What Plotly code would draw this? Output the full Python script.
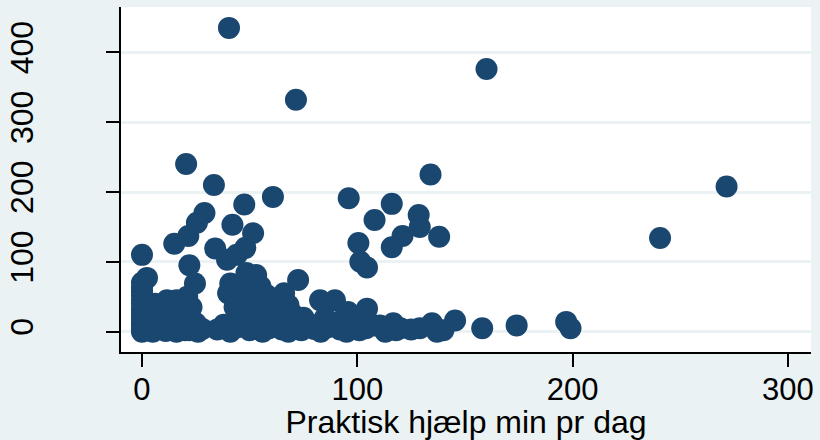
import plotly.graph_objects as go

# Praktisk hjælp (x, min pr dag) vs. the y-variable (its title is cropped in the source)
praktisk = [
    # column at zero
    0, 0, 0, 0, 0, 0, 0, 0, 0, 0, 0, 0, 0, 0, 0,
    # just right of zero
    2.3, 2, 3, 4, 5, 6, 7, 8, 9, 10,
    # left cluster
    11.6, 16, 21, 22, 24.6, 12, 14, 15, 17, 19, 20, 22, 23, 25, 26, 18,
    # rising arm
    15, 21.5, 25.5, 29, 20.5, 33.4,
    # middle cluster
    34, 39.5, 42, 44, 48, 51.6, 48.5, 53, 41, 45.5, 40, 44, 47, 50, 52, 55,
    57, 58, 60, 62, 64, 66, 68, 70, 72.5, 49, 53, 56, 43, 46, 47.5, 60.8,
    # right of middle
    82.7, 89.6, 95.7, 104.5, 85, 92, 100, 75, 78,
    100.5, 101.4, 104.5, 108, 116, 116, 96, 121, 129, 128.5, 138, 134,
    # bottom row
    1, 3, 5, 8, 11, 13, 16, 19, 22, 25, 28, 35, 38, 41, 44, 47, 50, 53, 56,
    59, 62, 65, 68, 71, 74, 77, 80, 83, 86, 89, 92, 95, 98, 101, 104, 108,
    110.5, 113, 116.7, 118, 120, 125, 129, 134.7, 137, 140, 145.4, 158, 174,
    197, 199,
    # outliers
    40.4, 160, 71.5, 271.5, 240.6,
]

pleje = [
    0, 3, 8, 12, 18, 22, 28, 33, 40, 45, 52, 58, 63, 70, 110,
    77, 5, 30, 15, 2, 40, 10, 25, 5, 35,
    45, 45, 50, 95, 69, 10, 20, 3, 30, 12, 2, 22, 35, 8, 0, 38,
    126, 137, 156, 170, 240, 210,
    119, 103, 153, 110, 120, 141, 84, 81, 69, 45, 55, 62, 70, 60, 50, 65,
    45, 52, 40, 30, 48, 55, 38, 25, 74, 30, 35, 28, 35, 25, 182, 193,
    45, 45, 28, 33, 20, 15, 20, 20, 10,
    127, 100, 92, 160, 121, 183, 191, 137, 150, 167, 136, 225,
    2, 8, 0, 4, 1, 9, 0, 5, 2, 12, 4, 3, 10, 0, 6, 12, 2, 8, 0,
    5, 11, 3, 0, 7, 2, 12, 4, 0, 6, 10, 3, 0, 8, 2, 5, 9,
    9, 0, 12, 2, 5, 3, 5, 12, 0, 2, 16, 5, 9,
    14, 5,
    435, 376, 332, 208, 134,
]

x_ticks = [0, 100, 200, 300]
y_ticks = [0, 100, 200, 300, 400]

BG = "#EAF2F3"
NAVY = "#1A476F"
FONT = "Liberation Sans, Arial, sans-serif"

fig = go.Figure(go.Scatter(
    x=praktisk, y=pleje, mode="markers",
    marker=dict(size=22, color=NAVY, line=dict(width=0)),
    hoverinfo="x+y",
))

fig.update_layout(
    width=820, height=440,
    paper_bgcolor=BG, plot_bgcolor="white",
    margin=dict(l=121, r=9, t=7, b=88),
    showlegend=False,
    font=dict(family=FONT, color="black"),
)
fig.update_xaxes(
    range=[-9.75, 310.7], tickvals=x_ticks, automargin=False,
    ticks="outside", ticklen=13, tickwidth=2, tickcolor="black",
    showline=True, linecolor="black", linewidth=2,
    showgrid=False, zeroline=False,
    tickfont=dict(size=31), ticklabelstandoff=-4,
    title=dict(text="Praktisk hjælp min pr dag", font=dict(size=32), standoff=4),
)
fig.update_yaxes(
    range=[-29.1, 464.9], tickvals=y_ticks, tickangle=-90, automargin=False,
    ticks="outside", ticklen=13, tickwidth=2, tickcolor="black",
    showline=True, linecolor="black", linewidth=2,
    showgrid=True, gridcolor=BG, gridwidth=3, zeroline=False,
    tickfont=dict(size=32), ticklabelstandoff=60,
)

# drop the page's default body margin so the figure fills the window
page_css = "document.body.style.margin='0';document.body.style.background='%s';" % BG
fig.write_html("out.html", post_script=page_css, config={"displayModeBar": False})
